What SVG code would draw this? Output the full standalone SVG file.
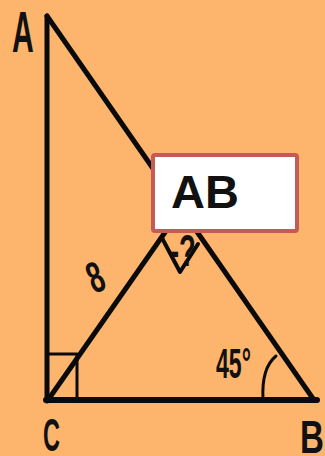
<svg xmlns="http://www.w3.org/2000/svg" width="325" height="456" viewBox="0 0 325 456">
<style>
.ln{stroke:#0a0a0a;stroke-linecap:round;stroke-linejoin:round;fill:none}
.lbl{font-family:"Liberation Sans",Arial,sans-serif;fill:#111;font-weight:bold}
</style>
<rect width="325" height="456" fill="#fdb56e"/>
<g id="connectors">
<line class="ln" x1="47" y1="16" x2="47" y2="401" stroke-width="5"/>
<line class="ln" x1="47" y1="16" x2="314" y2="400" stroke-width="5"/>
<line class="ln" x1="46" y1="400" x2="317" y2="400" stroke-width="6"/>
<line class="ln" x1="48" y1="400" x2="182" y2="208" stroke-width="5"/>
<polyline class="ln" points="48,354 77,354 77,400" stroke-width="3"/>
<polyline class="ln" points="162,238 180,272 198,244" stroke-width="4"/>
<path class="ln" d="M263 399 C262 380,265 365,276 356" stroke-width="3"/>
</g>
<g id="A"><text class="lbl" transform="translate(12,52) scale(0.52,1)" font-size="58">A</text></g>
<g id="C"><text class="lbl" transform="translate(43,451) scale(0.5,1)" font-size="47">C</text></g>
<g id="B"><text class="lbl" transform="translate(300,453) scale(0.72,1)" font-size="46">B</text></g>
<g id="side"><text class="lbl" transform="translate(94,294) rotate(-22) scale(0.62,1)" font-size="44">8</text></g>
<g id="angle"><text class="lbl" transform="translate(216,378) scale(0.55,1)" font-size="42">45°</text></g>
<g id="question">
<rect x="153" y="155" width="144" height="76" rx="2" fill="#fff" stroke="#c65a57" stroke-width="4"/>
<text class="lbl" x="171" y="208" font-size="47" fill="#000">AB</text>
</g>
<g id="unknown"><text class="lbl" transform="translate(170,266) scale(0.62,1)" font-size="44" fill="#000">-?</text></g>
</svg>
